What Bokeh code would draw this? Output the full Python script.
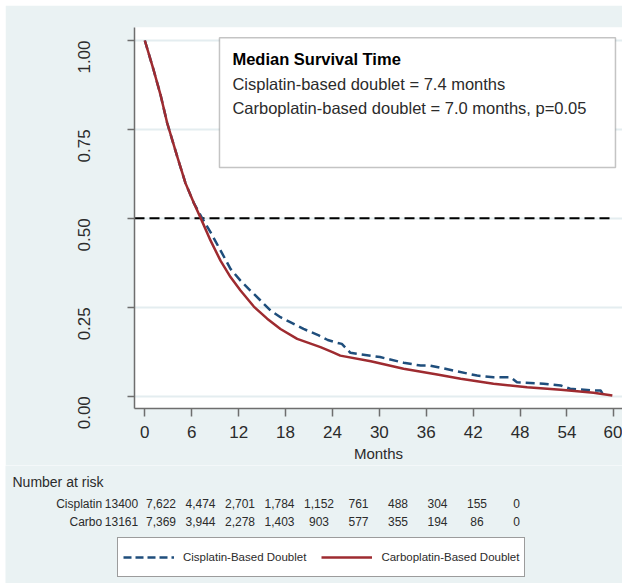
import math
from bokeh.plotting import figure
from bokeh.models import (Range1d, FixedTicker, BoxAnnotation, Label, Legend, LegendItem,
                          CustomJSTickFormatter)
from bokeh.layouts import column
from bokeh.core.properties import value
from bokeh.embed import file_html
from bokeh.resources import INLINE

# ---------------- data ----------------
cis_months = [0, 1.15, 2.0, 2.86, 4.14, 5.2, 6.27, 7.34, 8.4, 9.68, 10.96, 12.24, 13.5, 14.8,
              16.07, 17.35, 18.6, 20.3, 22.25, 23.4, 24.6, 25.2, 26.3, 30.1, 33.1, 35.3, 36.5,
              39.5, 41.2, 42.5, 44.6, 46.8, 47.6, 51.0, 53.2, 54.4, 57.4, 58.3, 58.7]
cis_surv = [1.0, 0.915, 0.848, 0.768, 0.674, 0.599, 0.543, 0.5, 0.461, 0.41, 0.358, 0.325, 0.297,
            0.269, 0.241, 0.222, 0.208, 0.189, 0.171, 0.158, 0.150, 0.147, 0.122, 0.110, 0.094,
            0.086, 0.086, 0.072, 0.064, 0.058, 0.053, 0.053, 0.039, 0.035, 0.030, 0.021, 0.016,
            0.016, 0.002]
carbo_months = [0, 1.15, 2.0, 2.86, 4.14, 5.2, 6.27, 7.12, 8.4, 9.68, 10.96, 12.24, 13.94, 15.65,
                17.35, 19.49, 22.47, 24.0, 25.0, 28.9, 33.1, 37.4, 40.4, 44.6, 48.9, 53.2,
                57.4, 59.8]
carbo_surv = [1.0, 0.915, 0.848, 0.768, 0.674, 0.599, 0.543, 0.502, 0.438, 0.381, 0.335, 0.297,
              0.252, 0.218, 0.189, 0.161, 0.138, 0.124, 0.114, 0.098, 0.077, 0.061, 0.049, 0.035,
              0.025, 0.018, 0.0095, 0.002]

x_ticks = [0, 6, 12, 18, 24, 30, 36, 42, 48, 54, 60]
y_ticks = [0.0, 0.25, 0.5, 0.75, 1.0]
median_level = 0.5

risk_groups = ["Cisplatin", "Carbo"]
cis_risk = ["13400", "7,622", "4,474", "2,701", "1,784", "1,152", "761", "488", "304", "155", "0"]
carbo_risk = ["13161", "7,369", "3,944", "2,278", "1,403", "903", "577", "355", "194", "86", "0"]

box_lines = ["Median Survival Time",
             "Cisplatin-based doublet = 7.4 months",
             "Carboplatin-based doublet = 7.0 months, p=0.05"]
legend_labels = ["Cisplatin-Based Doublet", "Carboplatin-Based Doublet"]

# ---------------- style ----------------
BG = "#EAF2F3"
GRID = "#E4EDF0"
AXIS = "#6E6E6E"
TXT = "#2B2B2B"
BLUE = "#1F4E7C"
RED = "#9E2B30"
FONT = "Liberation Sans"

# ---------------- main plot ----------------
p = figure(width=617, height=460, output_backend="svg", toolbar_location=None,
           x_range=Range1d(-1.32, 61.1), y_range=Range1d(-0.0346, 1.0365),
           min_border_left=129, min_border_right=0, min_border_top=22, min_border_bottom=57,
           frame_align=False)
p.background_fill_color = "white"
p.border_fill_color = BG
p.outline_line_color = None

p.xgrid.grid_line_color = None
p.ygrid.grid_line_color = GRID
p.ygrid.grid_line_width = 2
p.ygrid.ticker = FixedTicker(ticks=y_ticks)

p.xaxis.ticker = FixedTicker(ticks=x_ticks)
p.yaxis.ticker = FixedTicker(ticks=y_ticks)
p.yaxis.formatter = CustomJSTickFormatter(code="return tick.toFixed(2);")
p.yaxis.major_label_orientation = math.pi / 2
for ax in (p.xaxis, p.yaxis):
    ax.axis_line_color = AXIS
    ax.axis_line_width = 1.5
    ax.major_tick_line_color = AXIS
    ax.major_tick_line_width = 1.5
    ax.minor_tick_line_color = None
    ax.major_tick_in = 0
    ax.major_label_text_font = FONT
    ax.major_label_text_color = TXT
    ax.major_label_text_font_size = "17px"
p.yaxis.major_tick_out = 7
p.yaxis.major_label_standoff = 43
p.xaxis.major_tick_out = 8
p.xaxis.major_label_standoff = 9
p.xaxis.axis_label = "Months"
p.xaxis.axis_label_text_font = FONT
p.xaxis.axis_label_text_font_style = "normal"
p.xaxis.axis_label_text_font_size = "15px"
p.xaxis.axis_label_text_color = TXT
p.xaxis.axis_label_standoff = 4

# median reference line
p.line([p.x_range.start, x_ticks[-1]], [median_level, median_level],
       line_color="black", line_width=2, line_dash="10 5")

# survival curves
p.line(cis_months, cis_surv, line_color=BLUE, line_width=2.5, line_dash="9 5")
p.line(carbo_months, carbo_surv, line_color=RED, line_width=2.5)

# annotation box
p.add_layout(BoxAnnotation(left=9.55, right=60.2, top=1.008, bottom=0.643,
                           fill_color="white", fill_alpha=1.0,
                           line_color="#3A3A3A", line_width=1.5))
box_y = [0.949, 0.879, 0.811]
for i, (txt, yy) in enumerate(zip(box_lines, box_y)):
    p.add_layout(Label(x=11.2, y=yy, text=txt, text_font=FONT,
                       text_font_size="16.5px", text_color="black" if i == 0 else TXT,
                       text_font_style="bold" if i == 0 else "normal",
                       text_baseline="alphabetic"))

# ---------------- risk table + legend ----------------
q = figure(width=617, height=118, output_backend="svg", toolbar_location=None,
           x_range=Range1d(-2.937, 12.684), y_range=Range1d(118, 0),
           x_axis_type=None, y_axis_type=None, frame_align=False,
           min_border_left=0, min_border_right=0, min_border_top=0, min_border_bottom=0)
q.background_fill_color = BG
q.border_fill_color = BG
q.outline_line_color = None
q.grid.visible = False

idx = list(range(len(x_ticks)))
q.text(x=[-2.76], y=[16], text=["Number at risk"], text_font=value(FONT),
       text_font_size=value("14px"), text_color=TXT, text_baseline="middle", text_align="left")
row_y = [38, 56]
for grp, vals, yy in zip(risk_groups, [cis_risk, carbo_risk], row_y):
    q.text(x=[-0.489], y=[yy], text=[grp], text_font=value(FONT),
           text_font_size=value("12px"), text_color=TXT, text_baseline="middle", text_align="right")
    q.text(x=idx, y=[yy] * len(idx), text=vals, text_font=value(FONT),
           text_font_size=value("12px"), text_color=TXT, text_baseline="middle", text_align="center")

# legend key renderers: the real curves drawn on an off-screen y range of this panel
q.extra_y_ranges = {"offscreen": Range1d(start=5, end=6)}
r1 = q.line(cis_months, cis_surv, y_range_name="offscreen",
            line_color=BLUE, line_width=2.5, line_dash="8 4")
r2 = q.line(carbo_months, carbo_surv, y_range_name="offscreen",
            line_color=RED, line_width=2.5)
leg = Legend(items=[LegendItem(label=legend_labels[0], renderers=[r1]),
                    LegendItem(label=legend_labels[1], renderers=[r2])],
             location=(112, 6), orientation="horizontal",
             label_text_font=FONT, label_text_font_size="11.5px", label_text_color=TXT,
             glyph_width=51, glyph_height=28, label_height=28, label_standoff=9,
             spacing=15, padding=5, margin=0,
             border_line_color="#3A3A3A", border_line_width=1.5,
             background_fill_color="white", background_fill_alpha=1.0)
q.add_layout(leg)

layout = column(p, q, spacing=0, margin=(5, 0, 0, 5))
open("out.html", "w").write(file_html(layout, INLINE))
